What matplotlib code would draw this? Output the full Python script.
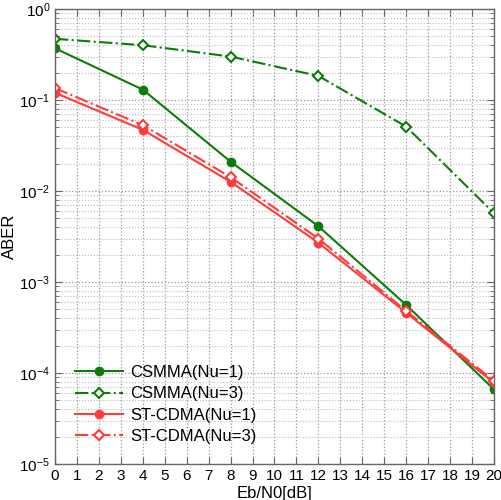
import matplotlib
matplotlib.use('Agg')

import matplotlib.pyplot as plt
import numpy as np
from matplotlib.ticker import LogLocator, NullFormatter, MultipleLocator

plt.rcParams['font.family'] = ['Liberation Sans', 'DejaVu Sans']

ebn0 = [0, 4, 8, 12, 16, 20]
csmma_nu1 = [0.37, 0.13, 0.021, 0.0041, 5.6e-4, 6.6e-5]
csmma_nu3 = [0.47, 0.40, 0.30, 0.184, 0.051, 0.0057]
stcdma_nu1 = [0.12, 0.047, 0.0126, 0.0027, 4.6e-4, 7.8e-5]
stcdma_nu3 = [0.135, 0.053, 0.0142, 0.0030, 4.8e-4, 8.2e-5]

green = '#0a7d0a'
red = '#ff3b3b'

fig = plt.figure(figsize=(5.02, 5.0), dpi=100)
ax = fig.add_axes([0.1096, 0.072, 0.8744, 0.910])

ax.semilogy(ebn0, csmma_nu1, '-', color=green, lw=1.5, marker='o', ms=6,
            label='CSMMA(Nu=1)')
ax.semilogy(ebn0, csmma_nu3, '-.', color=green, lw=1.5, marker='D', ms=5,
            mfc='white', mew=1.5, label='CSMMA(Nu=3)')
ax.semilogy(ebn0, stcdma_nu1, '-', color=red, lw=1.5, marker='o', ms=6,
            label='ST-CDMA(Nu=1)')
ax.semilogy(ebn0, stcdma_nu3, '-.', color=red, lw=1.5, marker='D', ms=5,
            mfc='white', mew=1.5, label='ST-CDMA(Nu=3)')

ax.set_xlim(0, 20)
ax.set_ylim(1e-5, 1)
ax.xaxis.set_major_locator(MultipleLocator(1))
ax.yaxis.set_major_locator(LogLocator(base=10, numticks=10))
ax.yaxis.set_minor_locator(LogLocator(base=10, subs=np.arange(2, 10), numticks=10))
ax.yaxis.set_minor_formatter(NullFormatter())

ax.grid(True, which='major', ls=':', color='#999999', lw=0.9)
ax.grid(True, which='minor', axis='y', ls=':', color='#bbbbbb', lw=0.8)
ax.tick_params(which='both', direction='in', top=True, right=True,
               labelsize=11, color='#666666')
ax.tick_params(which='major', length=5)
ax.tick_params(which='minor', length=3)
for s in ax.spines.values():
    s.set_color('#666666')
    s.set_linewidth(1.0)

ax.set_xlabel('Eb/N0[dB]', fontsize=12, labelpad=2)
ax.set_ylabel('ABER', fontsize=12, labelpad=2)

ax.legend(loc='lower left', frameon=False, fontsize=12,
          handlelength=2.9, handletextpad=0.4, borderaxespad=0.8,
          labelspacing=0.38, bbox_to_anchor=(0.0, 0.0))

plt.savefig('out.png', dpi=100)
plt.close('all')
